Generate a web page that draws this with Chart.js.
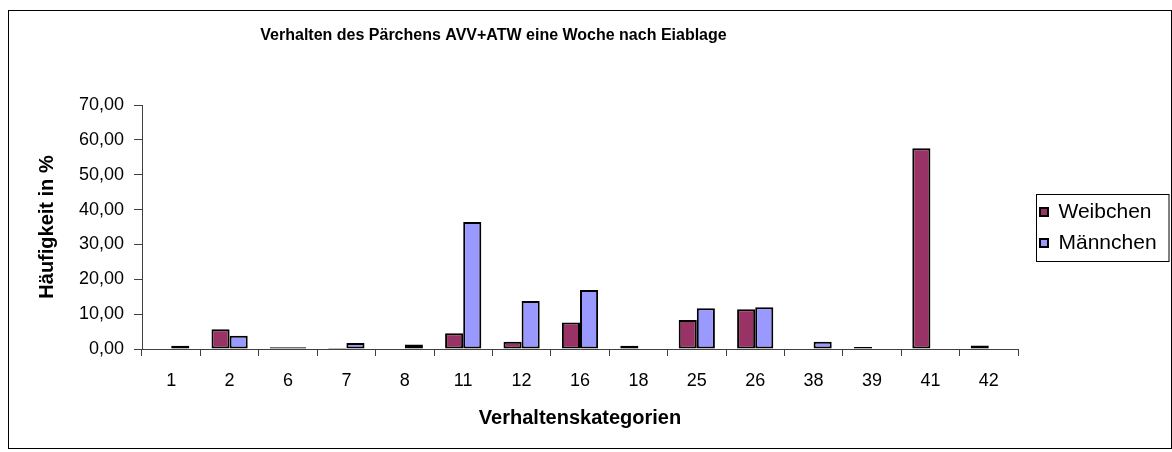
<!DOCTYPE html>
<html>
<head>
<meta charset="utf-8">
<script src="https://cdn.jsdelivr.net/npm/chart.js@4.4.1/dist/chart.umd.min.js"></script>
<style>
  html, body { margin: 0; padding: 0; background: #fff; }
</style>
</head>
<body>
<canvas id="myChart" width="1172" height="452"></canvas>
<script>
let myLabels = ['1', '2', '6', '7', '8', '11', '12', '16', '18', '25', '26', '38', '39', '41', '42'];
let weibchen = [0, 5.7, 0.5, 0.3, 0, 4.5, 2.1, 7.6, 0.9, 8.3, 11.4, 0, 0.6, 57.6, 1.0];
let maennchen = [0.9, 3.8, 0.5, 1.7, 1.3, 36.4, 13.8, 16.9, 0, 11.7, 12.0, 2.1, 0, 0, 0];
let yTicks = [0, 10, 20, 30, 40, 50, 60, 70];

Chart.defaults.font.family = "'Liberation Sans', Arial, sans-serif";
Chart.defaults.color = '#000';

let axisColor = '#404040';

// Rahmen um das ganze Diagramm und um die Legende
let rahmen = {
    id: 'rahmen',
    beforeDraw(chart) {
        let c = chart.ctx;
        c.save();
        c.fillStyle = '#fff';
        c.fillRect(0, 0, chart.width, chart.height);
        c.strokeStyle = '#000';
        c.lineWidth = 1;
        c.strokeRect(8.5, 10.5, chart.width - 9, chart.height - 14);
        c.restore();
    },
    afterLayout(chart) {
        // Legende rechts neben die Zeichenflaeche schieben
        let lg = chart.legend;
        let pad = lg.options.labels.padding;
        let h = lg.height;
        lg.left = chart.chartArea.right + 22 - pad;
        lg.right = chart.width - 2;
        lg.top = 201.5 - pad;
        lg.bottom = lg.top + h + pad;
        lg.width = lg.right - lg.left;
    },
    afterDraw(chart) {
        let lg = chart.legend;
        let pad = lg.options.labels.padding;
        let c = chart.ctx;
        c.save();
        c.strokeStyle = '#000';
        c.lineWidth = 1;
        let x0 = Math.round(lg.left + pad - 4) + 0.5;
        let y0 = Math.round(lg.top + pad - 7.5) + 0.5;
        c.strokeRect(x0, y0, chart.width - 3 - x0, 67);
        c.restore();
    }
};

let ctx = document.getElementById('myChart').getContext('2d');
let myChart = new Chart(ctx, {
    type: 'bar',
    data: {
        labels: myLabels,
        datasets: [{
            label: 'Weibchen',
            data: weibchen,
            backgroundColor: '#993366',
            borderColor: '#000',
            borderWidth: 2,
            borderSkipped: false
        }, {
            label: 'Männchen',
            data: maennchen,
            backgroundColor: '#9999ff',
            borderColor: '#000',
            borderWidth: 2,
            borderSkipped: false
        }]
    },
    options: {
        responsive: false,
        animation: false,
        categoryPercentage: 0.62,
        barPercentage: 1,
        layout: {
            padding: { left: -31, right: 154, top: 10, bottom: 4 }
        },
        plugins: {
            tooltip: { enabled: false },
            title: {
                display: true,
                text: 'Verhalten des Pärchens AVV+ATW eine Woche nach Eiablage',
                color: '#000',
                font: { size: 16, weight: 'bold' },
                padding: { top: 16.4, bottom: 59.4 }
            },
            legend: {
                position: 'chartArea',
                align: 'start',
                labels: {
                    color: '#000',
                    font: { size: 21 },
                    boxWidth: 8,
                    boxHeight: 8,
                    padding: 10
                }
            }
        },
        scales: {
            x: {
                grid: {
                    display: true,
                    drawOnChartArea: false,
                    offset: true,
                    tickLength: 7,
                    color: axisColor
                },
                border: { display: true, color: axisColor, width: 1 },
                ticks: { font: { size: 18 }, padding: 14, maxRotation: 0 },
                title: {
                    display: true,
                    text: 'Verhaltenskategorien',
                    font: { size: 20, weight: 'bold' },
                    padding: { top: 0, bottom: 18 }
                },
                afterFit(scale) { scale.height = 99; }
            },
            y: {
                min: 0,
                max: 70,
                afterBuildTicks(scale) {
                    scale.ticks = yTicks.map(v => ({ value: v }));
                },
                grid: {
                    display: true,
                    drawOnChartArea: false,
                    tickLength: 8,
                    color: axisColor
                },
                border: { display: true, color: axisColor, width: 1 },
                ticks: {
                    font: { size: 18 },
                    padding: 10,
                    callback: v => v.toFixed(2).replace('.', ',')
                },
                title: {
                    display: true,
                    text: 'Häufigkeit in %',
                    font: { size: 20, weight: 'bold' },
                    padding: { top: 66, bottom: 0 }
                },
                afterFit(scale) { scale.width = 173; }
            }
        }
    },
    plugins: [rahmen]
});
</script>
</body>
</html>
